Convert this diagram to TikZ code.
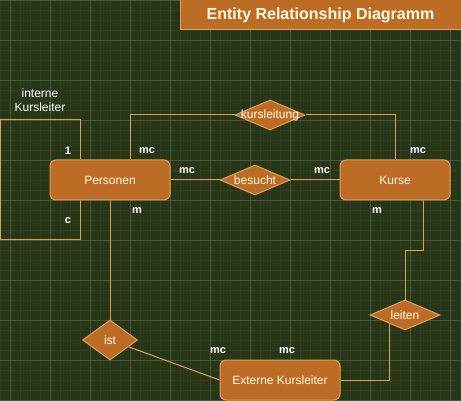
\documentclass[tikz,border=0pt]{standalone}
\usepackage{fontspec}
\setmainfont{Liberation Sans}
\usetikzlibrary{shapes.geometric,backgrounds}
\definecolor{bgdark}{HTML}{283618}
\definecolor{gridminor}{HTML}{2F3D22}
\definecolor{gridmajor}{HTML}{46573A}
\definecolor{boxfill}{HTML}{BC6C25}
\definecolor{boxline}{HTML}{DDA15E}
\definecolor{boxtext}{HTML}{FEFAE0}
\tikzset{
  entity/.style={rectangle, rounded corners=6pt, draw=boxline, line width=1pt,
    fill=boxfill, text=boxtext, inner sep=0pt, minimum height=40pt,
    font=\fontsize{12}{14}\selectfont},
  relation/.style={diamond, draw=boxline, line width=1pt, fill=boxfill,
    inner sep=0pt, minimum width=70pt, minimum height=30pt,
    label={[reltext]center:#1}},
  reltext/.style={text=boxtext, inner sep=0pt, font=\fontsize{12}{14}\selectfont},
  link/.style={draw=boxline, line width=1pt},
  card/.style={text=white, inner sep=0pt, font=\bfseries\fontsize{11}{13}\selectfont},
}
\begin{document}
\begin{tikzpicture}[x=1pt, y=-1pt]
  \useasboundingbox (0,0) rectangle (461,401);
  % background and grid
  \begin{scope}[on background layer]
    \fill[bgdark] (0,0) rectangle (461,401);
    \foreach \x in {0,10,...,460}
      \draw[gridminor, line width=0.5pt] (\x,0) -- (\x,401);
    \foreach \y in {0,10,...,400}
      \draw[gridminor, line width=0.5pt] (0,\y) -- (461,\y);
    \foreach \x in {10,50,...,450}
      \draw[gridmajor, line width=0.7pt] (\x,0) -- (\x,401);
    \foreach \y in {0,40,...,400}
      \draw[gridmajor, line width=0.7pt] (0,\y) -- (461,\y);
  \end{scope}

  % title
  \node[rectangle, draw=boxline, line width=1pt, fill=boxfill, text=boxtext,
    minimum width=281pt, minimum height=30pt, inner sep=0pt,
    font=\bfseries\fontsize{16}{18}\selectfont] (title) at (320.5,15) {Entity Relationship Diagramm};

  % entities
  \node[entity, minimum width=120pt] (pers) at (110,180) {Personen};
  \node[entity, minimum width=110pt] (kurse) at (395,180) {Kurse};
  \node[entity, minimum width=120pt] (ext) at (280,380) {Externe Kursleiter};

  % relations
  \node[relation=kursleitung] (kl) at (270,115) {};
  \node[relation=besucht] (bes) at (255,180) {};
  \node[relation=ist, minimum width=55pt, minimum height=40pt] (ist) at (110,340) {};
  \node[relation=leiten] (lt) at (405,315) {};

  % connectors
  \begin{scope}[on background layer]
    \draw[link] ([xshift=20pt]pers.north) |- (kl.west);
    \draw[link] (kl.east) -| (kurse.north);
    \draw[link] (pers.east) -- (bes.west);
    \draw[link] (bes.east) -- (kurse.west);
    % self loop (interne Kursleiter)
    \draw[link] ([xshift=-30pt]pers.north) -- ([xshift=-30pt]pers.north |- 0,120)
      -- (0.5,120) -- (0.5,240) -- ([xshift=-30pt]pers.south |- 0,240)
      -- ([xshift=-30pt]pers.south);
    \draw[link] (pers.south) -- (ist.north);
    \draw[link] (ist) -- (ext.west);
    \draw[link] (ext.east) -| (lt.210);
    \draw[link] ([xshift=28pt]kurse.south) -- ++(0,50) -| (lt.north);
  \end{scope}

  % loop label
  \node[text=white, align=center, inner sep=0pt, font=\fontsize{12}{13.5}\selectfont]
    (loop) at (40,100) {interne\\Kursleiter};

  % cardinalities
  \node[card] (c1) at (68,151) {1};
  \node[card] (c2) at (68,221) {c};
  \node[card] (c3) at (147,151) {mc};
  \node[card] (c4) at (187,171) {mc};
  \node[card] (c5) at (137,211) {m};
  \node[card] (c6) at (322,171) {mc};
  \node[card] (c7) at (418,151) {mc};
  \node[card] (c8) at (377,211) {m};
  \node[card] (c9) at (218,351) {mc};
  \node[card] (c10) at (287,351) {mc};
\end{tikzpicture}
\end{document}
